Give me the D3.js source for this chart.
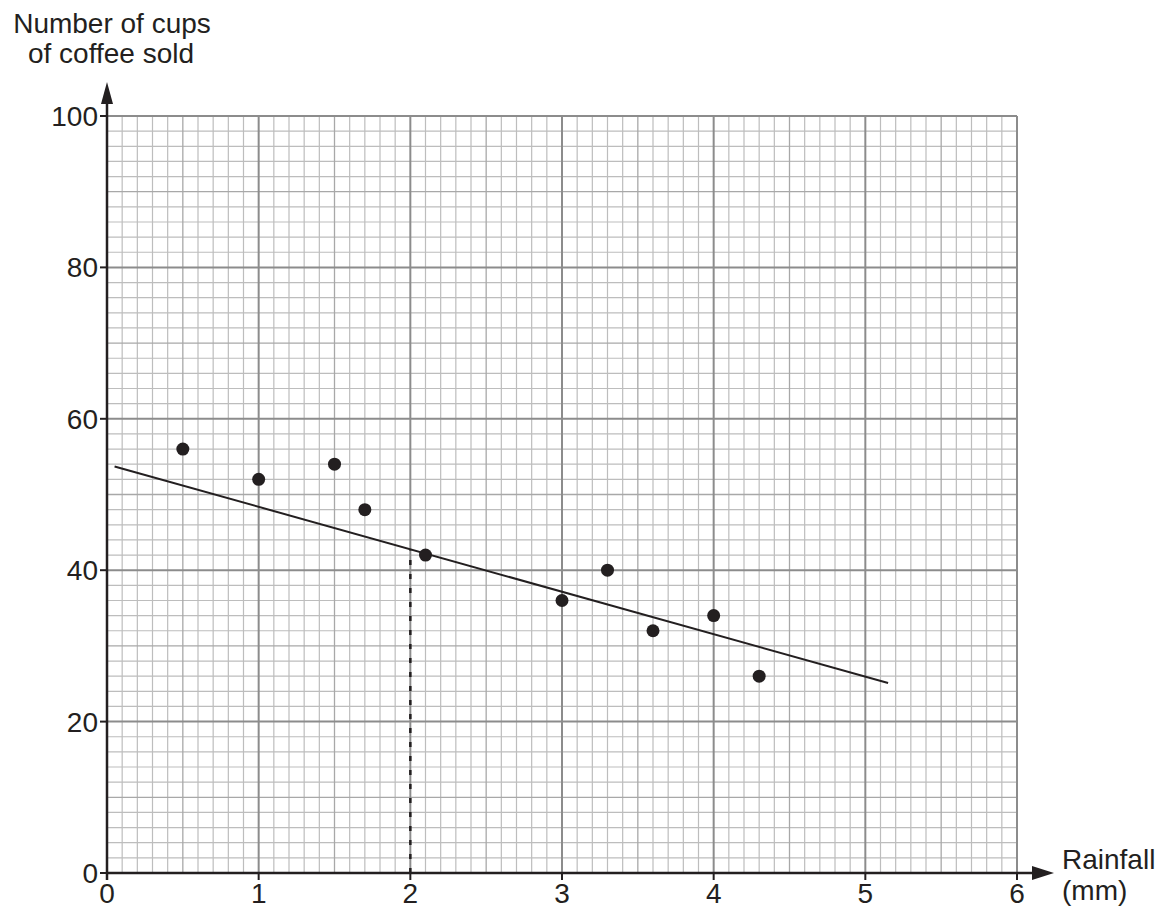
<!DOCTYPE html>
<html><head><meta charset="utf-8">
<script src="https://cdn.jsdelivr.net/npm/d3@7"></script>
<style>body{margin:0;background:#fff}svg{display:block}text{font-family:"Liberation Sans",Arial,sans-serif;fill:#231f20}</style>
</head><body><svg id="c" width="1160" height="908"></svg>
<script>
const rainfall = [0.5, 1, 1.5, 1.7, 2.1, 3, 3.3, 3.6, 4, 4.3];
const cups = [56, 52, 54, 48, 42, 36, 40, 32, 34, 26];
const fitLineX = [0.05, 5.15];
const fitLineY = [53.7, 25.1];
const readX = 2;
const readY = [0, 42.6];
const xTicks = [0, 1, 2, 3, 4, 5, 6];
const yTicks = [0, 20, 40, 60, 80, 100];

const svg = d3.select("#c");
const x = d3.scaleLinear().domain([0, 6]).range([107, 1017]);
const y = d3.scaleLinear().domain([0, 100]).range([873, 116]);

const g = svg.append("g");
const minorX = d3.range(0, 61).map(i => i / 10);
const minorY = d3.range(0, 51).map(i => i * 2);
function xStyle(v){ const k = Math.round(v*10); if (k % 10 === 0) return ["#8c8c8c", 2]; if (k % 5 === 0) return ["#a8a8a8", 1.3]; return ["#bdbdbd", 1.2]; }
function yStyle(v){ const k = Math.round(v); if (k % 20 === 0) return ["#8c8c8c", 2]; if (k % 10 === 0) return ["#a8a8a8", 1.3]; return ["#bdbdbd", 1.2]; }
const lines = [];
minorX.forEach(v => lines.push(["x", v, xStyle(v)]));
minorY.forEach(v => lines.push(["y", v, yStyle(v)]));
lines.sort((a, b) => a[2][1] - b[2][1]);
lines.forEach(([t, v, s]) => {
  if (t === "x") g.append("line").attr("x1", x(v)).attr("x2", x(v)).attr("y1", y(0)).attr("y2", y(100)).attr("stroke", s[0]).attr("stroke-width", s[1]);
  else g.append("line").attr("x1", x(0)).attr("x2", x(6)).attr("y1", y(v)).attr("y2", y(v)).attr("stroke", s[0]).attr("stroke-width", s[1]);
});

const ax = "#231f20";
svg.append("line").attr("x1", x(0)).attr("x2", 1036).attr("y1", y(0)).attr("y2", y(0)).attr("stroke", ax).attr("stroke-width", 2.5);
svg.append("path").attr("d", `M1054,${y(0)} L1032,${y(0)-7} L1032,${y(0)+7} Z`).attr("fill", ax);
svg.append("line").attr("x1", x(0)).attr("x2", x(0)).attr("y1", y(0)+7).attr("y2", 100).attr("stroke", ax).attr("stroke-width", 2.5);
svg.append("path").attr("d", `M${x(0)},82 L${x(0)-6},104 L${x(0)+6},104 Z`).attr("fill", ax);

xTicks.forEach(v => {
  svg.append("line").attr("x1", x(v)).attr("x2", x(v)).attr("y1", y(0)).attr("y2", y(0)+7).attr("stroke", ax).attr("stroke-width", 2);
  svg.append("text").attr("x", x(v)).attr("y", 903).attr("text-anchor", "middle").attr("font-size", 28).text(v);
});
yTicks.forEach(v => {
  svg.append("line").attr("x1", x(0)-7).attr("x2", x(0)).attr("y1", y(v)).attr("y2", y(v)).attr("stroke", ax).attr("stroke-width", 2);
  svg.append("text").attr("x", 98).attr("y", y(v)+10).attr("text-anchor", "end").attr("font-size", 28).text(v);
});

svg.append("text").attr("x", 112).attr("y", 33).attr("text-anchor", "middle").attr("font-size", 28).text("Number of cups");
svg.append("text").attr("x", 111).attr("y", 63).attr("text-anchor", "middle").attr("font-size", 28).text("of coffee sold");
svg.append("text").attr("x", 1062).attr("y", 869).attr("font-size", 28).text("Rainfall");
svg.append("text").attr("x", 1062).attr("y", 900).attr("font-size", 28).text("(mm)");

svg.append("line").attr("x1", x(readX)).attr("x2", x(readX)).attr("y1", y(readY[0])).attr("y2", y(readY[1]))
  .attr("stroke", ax).attr("stroke-width", 2.5).attr("stroke-dasharray", "5,9");

svg.append("line").attr("x1", x(fitLineX[0])).attr("y1", y(fitLineY[0])).attr("x2", x(fitLineX[1])).attr("y2", y(fitLineY[1]))
  .attr("stroke", ax).attr("stroke-width", 2);

svg.selectAll("circle.p").data(rainfall).enter().append("circle")
  .attr("cx", d => x(d)).attr("cy", (d, i) => y(cups[i])).attr("r", 6.5).attr("fill", ax);
</script></body></html>
